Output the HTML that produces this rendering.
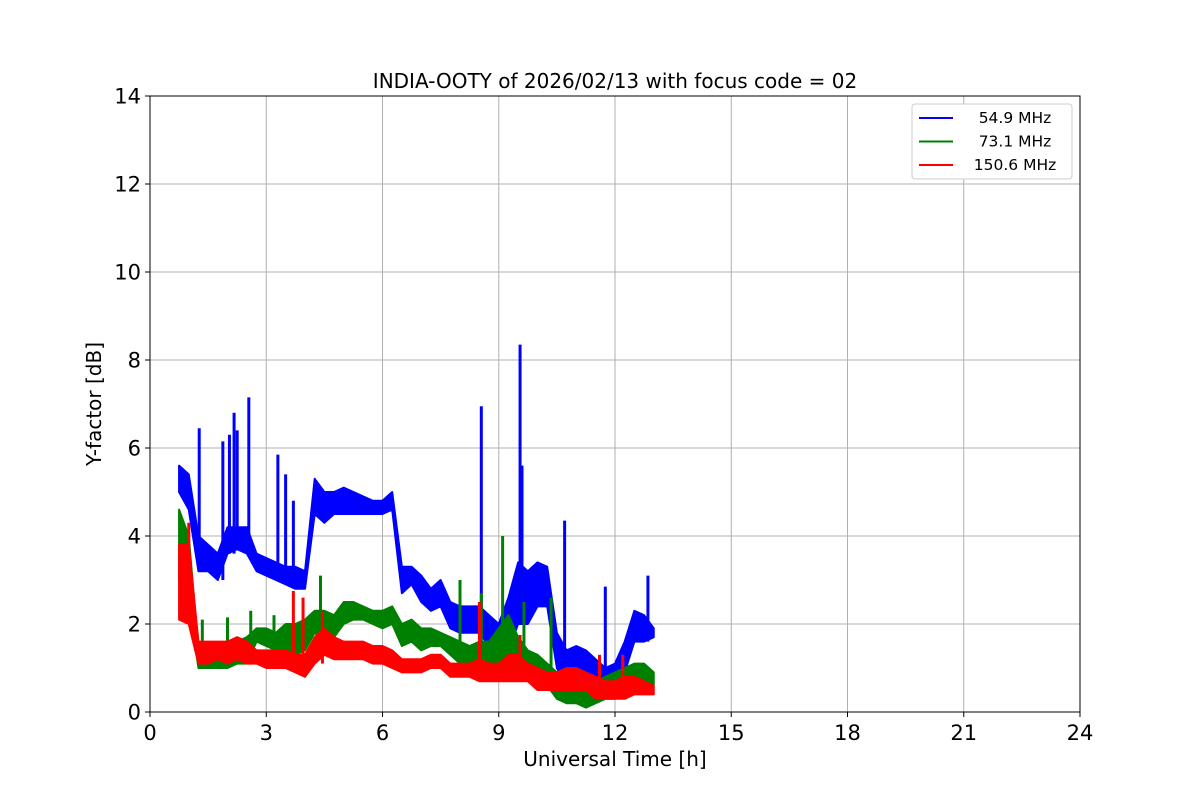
<!DOCTYPE html>
<html><head><meta charset="utf-8"><style>
body{margin:0;background:#fff}
svg text{font-family:"DejaVu Sans","Liberation Sans",sans-serif}
</style></head><body>
<svg id="c" width="1200" height="800" xmlns="http://www.w3.org/2000/svg">
<rect width="1200" height="800" fill="#fff"/>
<g id="grid"></g><g id="series"></g><g id="axes"></g>
</svg>
<script>
const times=[0.75,1,1.25,1.5,1.75,2,2.25,2.5,2.75,3,3.25,3.5,3.75,4,4.25,4.5,4.75,5,5.25,5.5,5.75,6,6.25,6.5,6.75,7,7.25,7.5,7.75,8,8.25,8.5,8.75,9,9.25,9.5,9.75,10,10.25,10.5,10.75,11,11.25,11.5,11.75,12,12.25,12.5,12.75,13];
const blueLo=[5.0,4.6,3.2,3.2,3.0,3.6,3.7,3.6,3.2,3.1,3.0,2.9,2.8,2.8,4.5,4.3,4.5,4.5,4.5,4.5,4.5,4.5,4.6,2.7,2.9,2.5,2.3,2.4,1.9,1.8,1.8,1.8,1.5,1.2,1.4,2.0,2.0,2.4,2.4,1.0,0.6,1.0,0.8,0.7,0.6,0.6,0.9,1.6,1.6,1.7];
const blueHi=[5.6,5.4,4.0,3.8,3.6,4.2,4.2,4.2,3.6,3.5,3.4,3.3,3.3,3.2,5.3,5.0,5.0,5.1,5.0,4.9,4.8,4.8,5.0,3.3,3.3,3.1,2.8,3.0,2.5,2.4,2.4,2.4,2.2,2.0,2.6,3.4,3.2,3.4,3.3,1.8,1.4,1.5,1.4,1.2,1.0,1.1,1.6,2.3,2.2,1.9];
const blueSpikeT=[1.27,1.88,2.05,2.17,2.25,2.55,3.3,3.5,3.7,8.55,9.55,9.6,10.7,11.75,12.85];
const blueSpikeV=[6.45,6.15,6.3,6.8,6.4,7.15,5.85,5.4,4.8,6.95,8.35,5.6,4.35,2.85,3.1];
const greenLo=[3.0,2.5,1.0,1.0,1.0,1.0,1.1,1.1,1.6,1.5,1.4,1.4,1.3,1.4,1.8,1.6,1.7,2.0,2.1,2.1,2.0,1.9,2.0,1.5,1.6,1.4,1.5,1.5,1.3,1.1,1.1,0.9,0.8,0.9,1.1,0.9,0.9,0.6,0.6,0.3,0.2,0.2,0.1,0.2,0.3,0.3,0.4,0.6,0.6,0.6];
const greenHi=[4.6,4.0,1.4,1.4,1.5,1.6,1.6,1.7,1.9,1.9,1.8,2.0,2.0,2.1,2.3,2.3,2.2,2.5,2.5,2.4,2.3,2.3,2.4,2.0,2.1,1.9,1.9,1.8,1.7,1.6,1.5,1.6,1.6,1.9,2.2,1.7,1.4,1.3,1.1,0.9,0.8,0.8,0.7,0.7,0.8,0.9,1.0,1.1,1.1,0.9];
const greenSpikeT=[1.35,2.0,2.6,3.2,4.4,8.0,8.55,9.1,9.65,10.35];
const greenSpikeV=[2.1,2.15,2.3,2.2,3.1,3.0,2.7,4.0,2.5,2.6];
const redLo=[2.1,2.0,1.1,1.1,1.2,1.1,1.2,1.1,1.1,1.0,1.0,1.0,0.9,0.8,1.1,1.3,1.2,1.2,1.2,1.2,1.1,1.1,1.0,0.9,0.9,0.9,1.0,1.0,0.8,0.8,0.8,0.7,0.7,0.7,0.7,0.7,0.7,0.5,0.5,0.5,0.5,0.5,0.5,0.3,0.3,0.3,0.3,0.4,0.4,0.4];
const redHi=[3.8,3.8,1.6,1.6,1.6,1.6,1.7,1.6,1.4,1.4,1.4,1.4,1.3,1.3,1.7,1.9,1.7,1.6,1.6,1.6,1.5,1.5,1.4,1.2,1.2,1.2,1.3,1.3,1.1,1.1,1.1,1.2,1.1,1.1,1.3,1.3,1.1,1.0,0.9,0.9,1.0,1.0,0.9,0.8,0.7,0.7,0.8,0.8,0.7,0.6];
const redSpikeT=[1.0,3.7,3.95,4.45,8.5,9.55,11.6,12.2];
const redSpikeV=[4.3,2.75,2.6,2.3,2.5,1.75,1.3,1.3];
const xTicks=[0,3,6,9,12,15,18,21,24];
const yTicks=[0,2,4,6,8,10,12,14];
const labels=["54.9 MHz","73.1 MHz","150.6 MHz"];

const NS="http://www.w3.org/2000/svg";
const X0=150,X1=1080,Y0=712,Y1=96;
const xs=v=>X0+(v-0)/(24-0)*(X1-X0);
const ys=v=>Y0-(v-0)/(14-0)*(Y0-Y1);
function mk(tag,attrs,parent,text){const e=document.createElementNS(NS,tag);for(const k in attrs)e.setAttribute(k,attrs[k]);if(text!==undefined)e.textContent=text;parent.appendChild(e);return e;}
const grid=document.getElementById('grid'),ser=document.getElementById('series'),ax=document.getElementById('axes');
xTicks.forEach(t=>{
 const g=mk('line',{x1:xs(t),x2:xs(t),y1:Y1,y2:Y0,stroke:'#b0b0b0','stroke-width':1},grid);
 
 
 const tk=mk('line',{x1:xs(t),x2:xs(t),y1:Y0,y2:Y0+5,stroke:'#000'},ax);
 
 
 const l=mk('text',{x:xs(t),y:Y0+28,'text-anchor':'middle','font-size':21},ax,String(t));
 
 
});
yTicks.forEach(t=>{
 const g=mk('line',{x1:X0,x2:X1,y1:ys(t),y2:ys(t),stroke:'#b0b0b0','stroke-width':1},grid);
 
 
 const tk=mk('line',{x1:X0-5,x2:X0,y1:ys(t),y2:ys(t),stroke:'#000'},ax);
 
 
 const l=mk('text',{x:X0-9,y:ys(t)+7.5,'text-anchor':'end','font-size':21},ax,String(t));
 
 
});
function band(lo,hi,st,sv,color,name){
 const g=mk('g',{},ser);
 
 
 let d='';
 times.forEach((t,i)=>{d+=(i?'L':'M')+xs(t)+','+ys(hi[i]);});
 for(let i=times.length-1;i>=0;i--)d+='L'+xs(times[i])+','+ys(lo[i]);
 const p=mk('path',{d:d+'Z',fill:color,stroke:color,'stroke-width':2,'stroke-linejoin':'round'},g);
 
 
 st.forEach((t,i)=>{
  let j=0;while(j<times.length-1&&times[j+1]<=t)j++;
  const base=lo[j];
  const s=mk('line',{x1:xs(t),x2:xs(t),y1:ys(base),y2:ys(sv[i]),stroke:color,'stroke-width':3},g);
  
  
 });
}
band(blueLo,blueHi,blueSpikeT,blueSpikeV,'#0000ff','series-54-9-mhz');
band(greenLo,greenHi,greenSpikeT,greenSpikeV,'#008000','series-73-1-mhz');
band(redLo,redHi,redSpikeT,redSpikeV,'#ff0000','series-150-6-mhz');
const fr=mk('rect',{x:X0,y:Y1,width:X1-X0,height:Y0-Y1,fill:'none',stroke:'#000','stroke-width':1},ax);


const ti=mk('text',{x:615,y:88,'text-anchor':'middle','font-size':20},ax,'INDIA-OOTY of 2026/02/13 with focus code = 02');


const xl=mk('text',{x:615,y:766,'text-anchor':'middle','font-size':20},ax,'Universal Time [h]');


const yl=mk('text',{x:101,y:404,'text-anchor':'middle','font-size':20,transform:'rotate(-90 101 404)'},ax,'Y-factor [dB]');


const lg=mk('g',{},ax);


mk('rect',{x:912,y:104,width:160,height:75,rx:3,fill:'#fff',stroke:'#ccc'},lg);
const cols=['#0000ff','#008000','#ff0000'];
labels.forEach((s,i)=>{
 const y=118+i*23.5;
 const e=mk('g',{},lg);
 
 
 mk('line',{x1:919,x2:953,y1:y,y2:y,stroke:cols[i],'stroke-width':2},e);
 mk('text',{x:1015,y:y+5,'text-anchor':'middle','font-size':15.5},e,s);
});
</script>
</body></html>
